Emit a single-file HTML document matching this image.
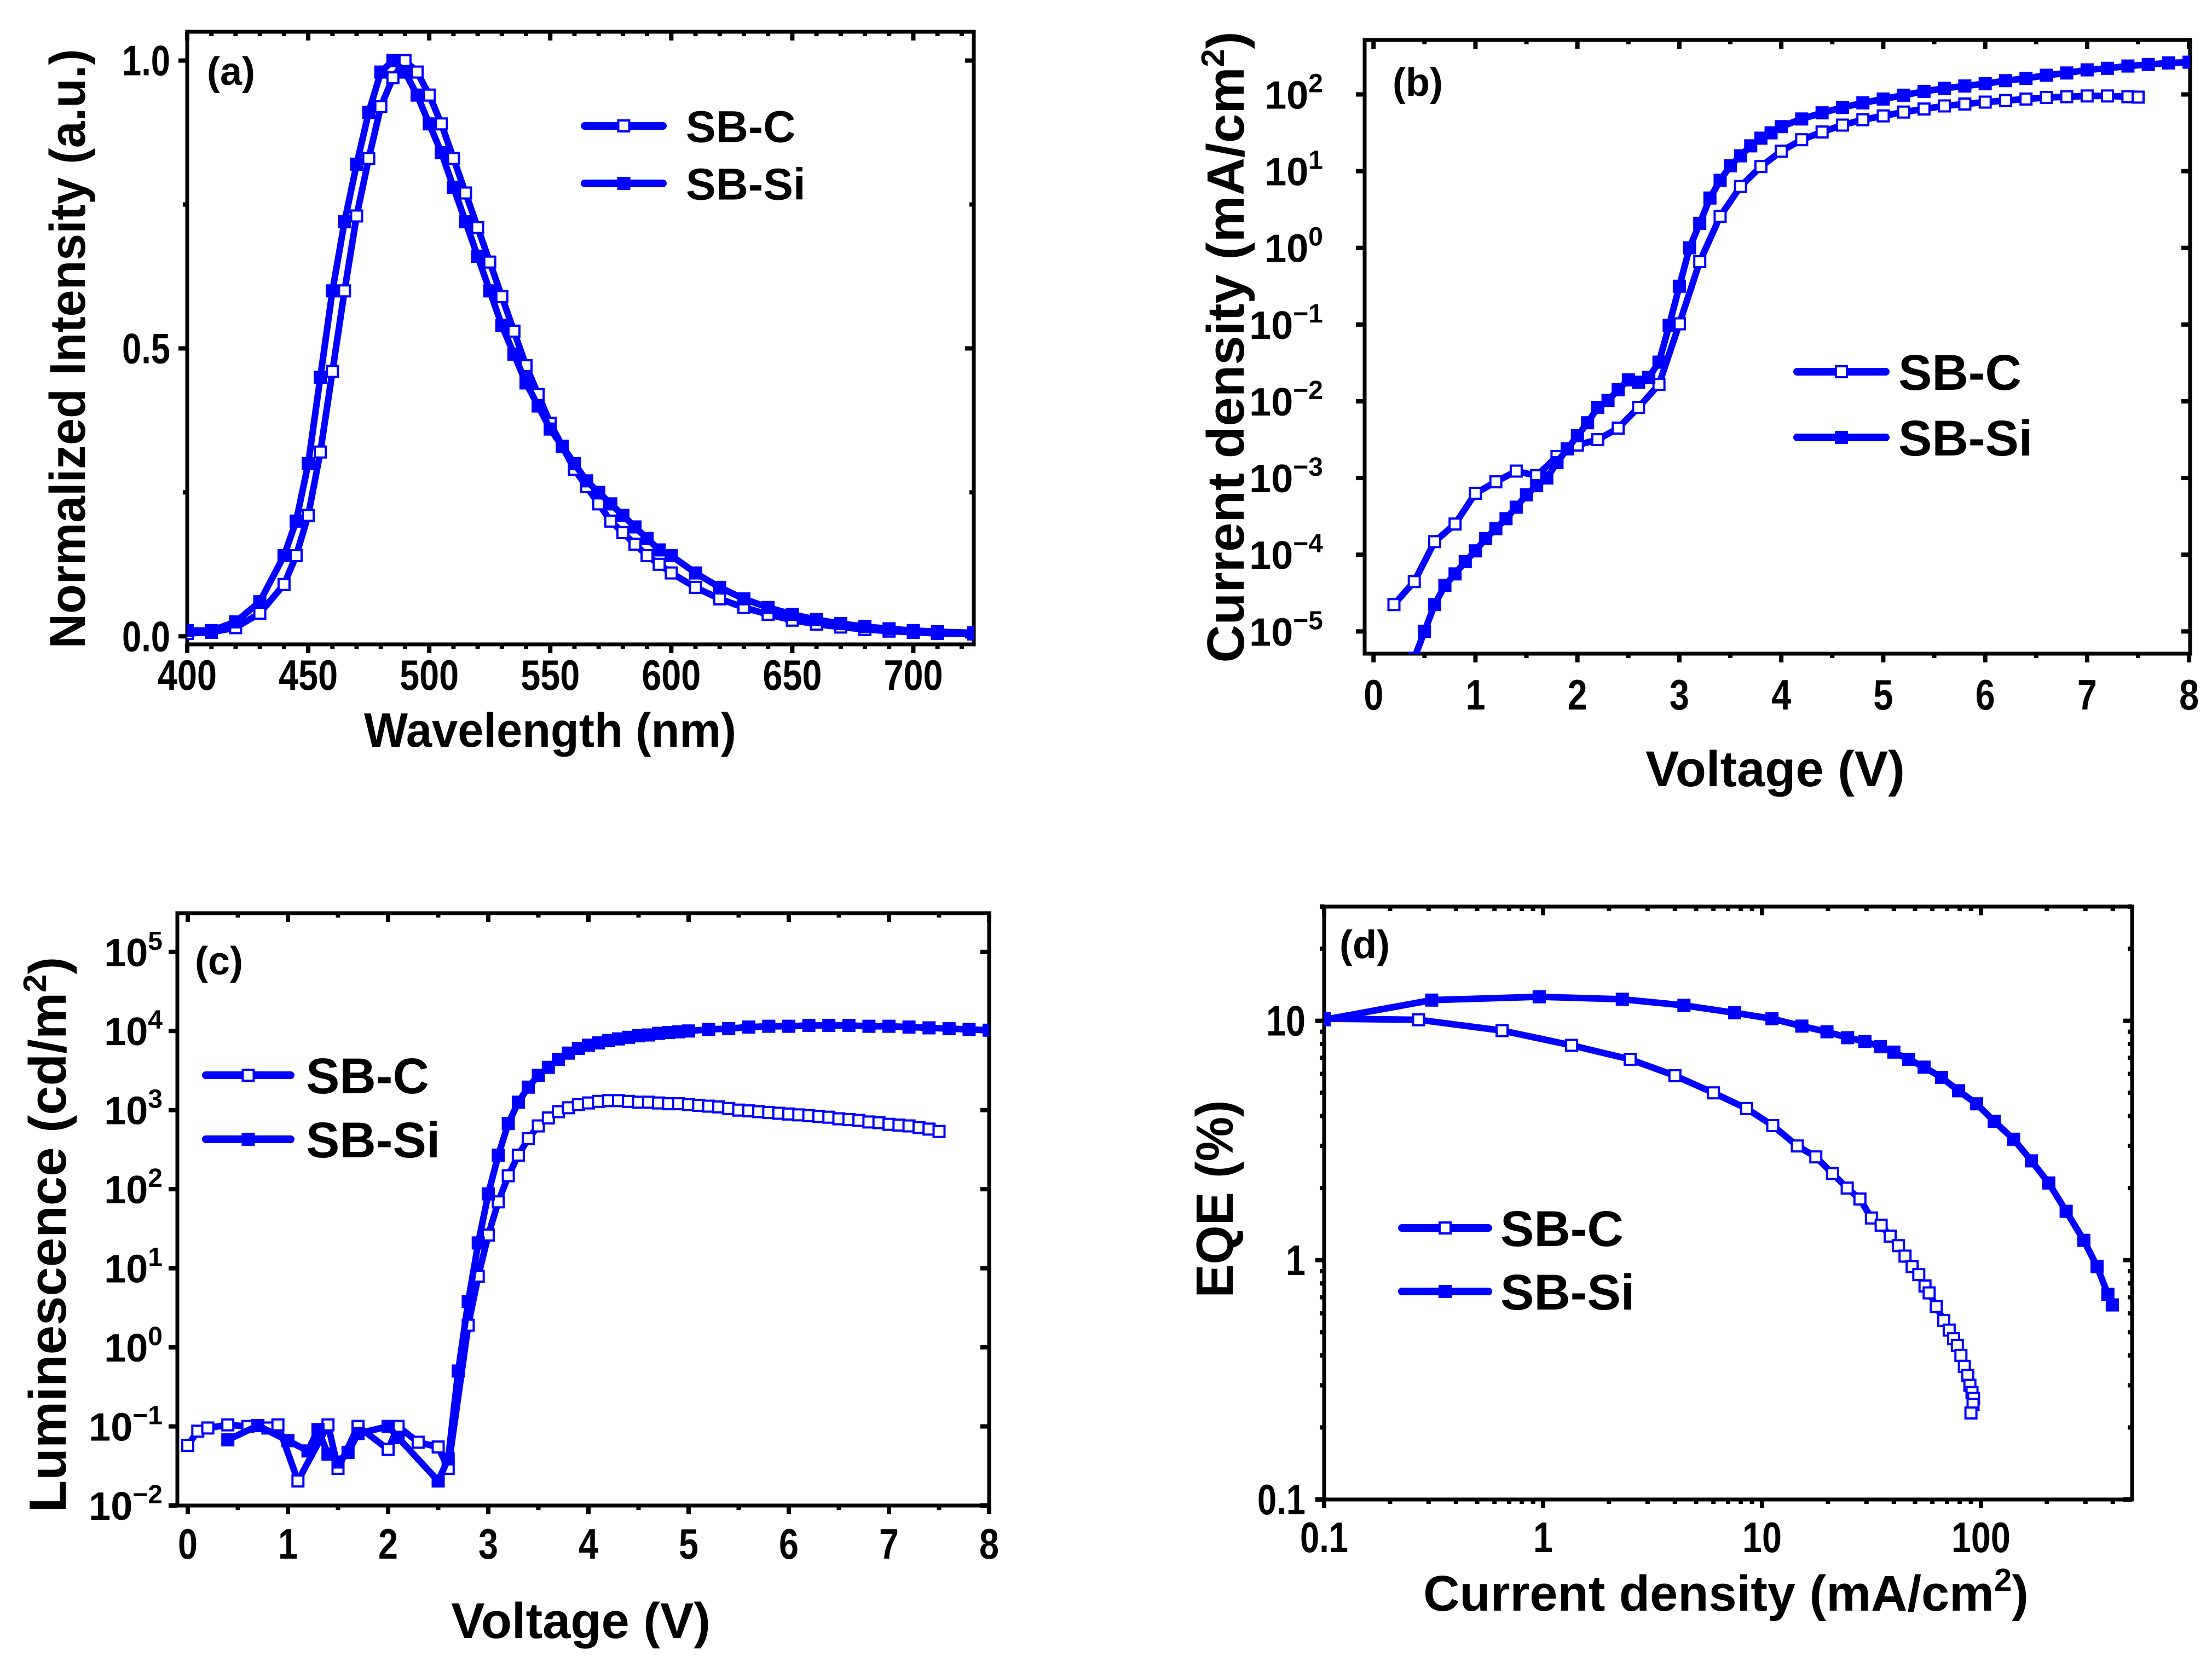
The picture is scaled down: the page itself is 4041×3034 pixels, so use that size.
<!DOCTYPE html>
<html><head><meta charset="utf-8">
<style>
html,body{margin:0;padding:0;background:#fff;}
svg{display:block;font-family:"Liberation Sans",Arial,sans-serif;font-weight:bold;}
</style></head>
<body>
<svg id="fig" width="4041" height="3034" viewBox="0 0 4041 3034" xmlns="http://www.w3.org/2000/svg">
<rect x="0" y="0" width="4041" height="3034" fill="#fff"/>
</svg>
<script>
// ---------- Panel (a) data: PL spectra ----------
const wlA = [400,410,420,430,440,445,450,455,460,465,470,475,480,485,490,495,500,505,510,515,520,525,530,535,540,545,550,555,560,565,570,575,580,585,590,595,600,610,620,630,640,650,660,670,680,690,700,710,725];
const plSBSi = [0.01,0.01,0.025,0.06,0.14,0.2,0.3,0.45,0.6,0.72,0.82,0.91,0.98,1.0,0.98,0.94,0.89,0.84,0.78,0.72,0.66,0.6,0.54,0.49,0.44,0.4,0.36,0.33,0.3,0.27,0.25,0.23,0.21,0.19,0.17,0.15,0.14,0.11,0.085,0.065,0.05,0.038,0.029,0.022,0.017,0.013,0.01,0.008,0.006];
const plSBC = [0.005,0.007,0.015,0.04,0.09,0.14,0.21,0.32,0.46,0.6,0.73,0.83,0.92,0.97,1.0,0.98,0.94,0.89,0.83,0.77,0.71,0.65,0.59,0.53,0.47,0.42,0.37,0.33,0.29,0.26,0.23,0.2,0.18,0.16,0.14,0.125,0.11,0.085,0.065,0.05,0.038,0.028,0.021,0.016,0.012,0.009,0.007,0.005,0.004];
const tickA_x = [400,450,500,550,600,650,700];
const tickA_y = [0,0.5,1.0];
const tickA_yLabels = ["0.0","0.5","1.0"];

// ---------- Panel (b) data: J-V (log10 of mA/cm2) ----------
const vB_C = [0.2,0.4,0.6,0.8,1.0,1.2,1.4,1.6,1.8,2.0,2.2,2.4,2.6,2.8,3.0,3.2,3.4,3.6,3.8,4.0,4.2,4.4,4.6,4.8,5.0,5.2,5.4,5.6,5.8,6.0,6.2,6.4,6.6,6.8,7.0,7.2,7.4,7.5];
const logJ_C = [-4.65,-4.35,-3.83,-3.6,-3.2,-3.05,-2.91,-2.97,-2.72,-2.57,-2.5,-2.35,-2.08,-1.78,-0.99,-0.18,0.41,0.8,1.06,1.26,1.41,1.51,1.6,1.67,1.72,1.77,1.81,1.85,1.875,1.9,1.92,1.94,1.96,1.97,1.98,1.98,1.97,1.965];
const vB_Si = [0.4,0.5,0.6,0.7,0.8,0.9,1.0,1.1,1.2,1.3,1.4,1.5,1.6,1.7,1.8,1.9,2.0,2.1,2.2,2.3,2.4,2.5,2.6,2.7,2.8,2.9,3.0,3.1,3.2,3.3,3.4,3.5,3.6,3.7,3.8,3.9,4.0,4.2,4.4,4.6,4.8,5.0,5.2,5.4,5.6,5.8,6.0,6.2,6.4,6.6,6.8,7.0,7.2,7.4,7.6,7.8,8.0];
const logJ_Si = [-5.35,-5.0,-4.65,-4.4,-4.25,-4.09,-3.95,-3.79,-3.66,-3.53,-3.38,-3.22,-3.1,-3.0,-2.8,-2.62,-2.45,-2.28,-2.08,-1.99,-1.85,-1.72,-1.75,-1.69,-1.49,-1.01,-0.5,0.0,0.32,0.65,0.88,1.07,1.2,1.33,1.43,1.5,1.58,1.68,1.76,1.83,1.89,1.94,1.99,2.04,2.08,2.11,2.14,2.18,2.21,2.25,2.28,2.32,2.34,2.37,2.39,2.41,2.42];
const tickB_x = [0,1,2,3,4,5,6,7,8];
const tickB_yExp = [2,1,0,-1,-2,-3,-4,-5];

// ---------- Panel (c) data: L-V (log10 of cd/m2) ----------
const vC_C = [0,0.1,0.2,0.4,0.6,0.8,0.9,1.1,1.4,1.5,1.7,2.0,2.1,2.3,2.5,2.6,2.8,2.9,3.0,3.1,3.2,3.3,3.4,3.5,3.6,3.7,3.8,3.9,4.0,4.1,4.2,4.3,4.4,4.5,4.6,4.7,4.8,4.9,5.0,5.1,5.2,5.3,5.4,5.5,5.6,5.7,5.8,5.9,6.0,6.1,6.2,6.3,6.4,6.5,6.6,6.7,6.8,6.9,7.0,7.1,7.2,7.3,7.4,7.5];
const logL_C = [-1.24,-1.06,-1.02,-0.98,-1.0,-1.02,-0.98,-1.69,-0.98,-1.53,-1.0,-1.29,-1.0,-1.2,-1.26,-1.53,0.28,0.9,1.42,1.84,2.17,2.43,2.64,2.8,2.9,2.98,3.03,3.07,3.09,3.11,3.12,3.12,3.11,3.1,3.1,3.09,3.08,3.08,3.07,3.06,3.05,3.04,3.02,3.0,2.99,2.98,2.97,2.96,2.95,2.94,2.93,2.92,2.91,2.89,2.88,2.87,2.85,2.84,2.82,2.81,2.8,2.78,2.76,2.73];
const vC_Si = [0.4,0.7,1.0,1.2,1.3,1.4,1.5,1.6,1.7,2.0,2.1,2.5,2.6,2.7,2.8,2.9,3.0,3.1,3.2,3.3,3.4,3.5,3.6,3.7,3.8,3.9,4.0,4.1,4.2,4.3,4.4,4.5,4.6,4.7,4.8,4.9,5.0,5.2,5.4,5.6,5.8,6.0,6.2,6.4,6.6,6.8,7.0,7.2,7.4,7.6,7.8,8.0];
const logL_Si = [-1.17,-0.99,-1.18,-1.31,-1.04,-1.35,-1.45,-1.33,-1.09,-1.0,-1.14,-1.69,-1.41,-0.3,0.58,1.32,1.94,2.43,2.83,3.1,3.29,3.44,3.54,3.64,3.72,3.78,3.82,3.85,3.88,3.9,3.92,3.94,3.95,3.97,3.98,3.99,4.0,4.02,4.03,4.05,4.06,4.06,4.07,4.07,4.07,4.06,4.06,4.05,4.04,4.03,4.02,4.01];
const tickC_x = [0,1,2,3,4,5,6,7,8];
const tickC_yExp = [5,4,3,2,1,0,-1,-2];

// ---------- Panel (d) data: EQE vs J ----------
const jD_C = [0.1,0.27,0.65,1.35,2.5,4.0,6.0,8.5,11.2,14.5,17.6,21,24.5,28,31.6,35,38.5,42,45,48.5,52,55.5,58,62.5,67.6,71.6,75,78,81,84,87,89,91,92.5,92,90];
const eqeD_C = [10.2,10.1,9.1,7.9,6.9,5.9,5.0,4.3,3.65,3.0,2.7,2.3,2.0,1.8,1.5,1.4,1.26,1.15,1.04,0.94,0.87,0.78,0.73,0.64,0.56,0.51,0.47,0.44,0.4,0.36,0.33,0.3,0.28,0.265,0.25,0.23];
const jD_Si = [0.1,0.31,0.96,2.3,4.4,7.5,11.1,15.2,19.8,24.6,29.5,34.7,40,46.8,55,66,79,95.5,115,141,170,204,245,295,339,380,398];
const eqeD_Si = [10.1,12.2,12.6,12.3,11.6,10.8,10.2,9.5,9.0,8.5,8.2,7.8,7.4,6.9,6.4,5.8,5.1,4.5,3.8,3.2,2.6,2.1,1.6,1.21,0.94,0.72,0.65];
const tickD_x = [0.1,1,10,100];
const tickD_xLabels = ["0.1","1","10","100"];
const tickD_y = [0.1,1,10];
const tickD_yLabels = ["0.1","1","10"];

const NS = 'http://www.w3.org/2000/svg';
const svg = document.getElementById('fig');
const BLUE = '#0000ff';
function el(tag, parent){ const e = document.createElementNS(NS, tag); parent.appendChild(e); return e; }
function set(e, o){ for (const k in o) e.setAttribute(k, o[k]); return e; }

function makeScale(pmin, pmax, dmin, dmax, log){
  const f = log ? Math.log10 : (v => v);
  const a = f(dmin), b = f(dmax);
  return v => pmin + (f(v) - a) / (b - a) * (pmax - pmin);
}

function makePanel(id, P){
  const g = el('g', svg);
  
  
  const sx = makeScale(P.x0, P.x1, P.xmin, P.xmax, P.xlog);
  const sy = makeScale(P.y1, P.y0, P.ymin, P.ymax, P.ylog);
  const cp = el('clipPath', g); cp.setAttribute('id', 'clip-' + id);
  set(el('rect', cp), {x:P.x0, y:P.y0, width:P.x1-P.x0, height:P.y1-P.y0});
  return {g, sx, sy, P, clip:'url(#clip-' + id + ')'};
}

function drawFrame(pn, xMaj, xMin, yMaj, yMin){
  const {g, sx, sy, P} = pn;
  const ax = el('g', g);
  
  
  const T = 16, t = 8;
  function tk(x1,y1,x2,y2){ set(el('line', ax), {x1,y1,x2,y2, stroke:'#000','stroke-width':8}); }
  xMaj.forEach(v => { const x = sx(v); tk(x,P.y1,x,P.y1+T); tk(x,P.y0,x,P.y0+T); });
  xMin.forEach(v => { const x = sx(v); tk(x,P.y1,x,P.y1+t); tk(x,P.y0,x,P.y0+t); });
  yMaj.forEach(v => { const y = sy(v); tk(P.x0-T,y,P.x0,y); tk(P.x1-T,y,P.x1,y); });
  yMin.forEach(v => { const y = sy(v); tk(P.x0-t,y,P.x0,y); tk(P.x1-t,y,P.x1,y); });
  set(el('rect', ax), {x:P.x0, y:P.y0, width:P.x1-P.x0, height:P.y1-P.y0, fill:'none', stroke:'#000','stroke-width':7});
}

function drawSeries(pn, xs, ys, open, name, msize){
  const {g, sx, sy} = pn;
  const sg = el('g', g);
  
  
  sg.setAttribute('clip-path', pn.clip);
  const pts = xs.map((x,i) => sx(x).toFixed(1) + ',' + sy(ys[i]).toFixed(1)).join(' ');
  set(el('polyline', sg), {points:pts, fill:'none', stroke:BLUE, 'stroke-width':12, 'stroke-linejoin':'round'});
  const s = msize || 20;
  xs.forEach((x,i) => {
    const r = el('rect', sg);
    set(r, {x:(sx(x)-s/2).toFixed(1), y:(sy(ys[i])-s/2).toFixed(1), width:s, height:s,
      fill: open ? '#fff' : BLUE, stroke:BLUE, 'stroke-width':4});
    
    
  });
}

function text(parent, str, x, y, size, anchor, name){
  const t = el('text', parent);
  set(t, {x, y, 'font-size':size, 'text-anchor':anchor||'middle', fill:'#000'});
  t.textContent = str;
  
  
  return t;
}
function tickText(parent, str, x, y, anchor, name){
  const t = text(parent, str, x, y, 78, anchor, name);
  const w = str.split('').reduce((s,c) => s + (c === '.' ? 16 : 36), 0);
  t.setAttribute('textLength', w);
  t.setAttribute('lengthAdjust', 'spacingAndGlyphs');
  return t;
}
function powLabel(parent, exp, xRight, y, name){
  const t = el('text', parent);
  set(t, {x:xRight, y, 'font-size':72, 'text-anchor':'end', fill:'#000'});
  const a = el('tspan', t); a.textContent = '10';
  const b = el('tspan', t); set(b, {dy:-30, 'font-size':48});
  b.textContent = exp < 0 ? '\u2212' + (-exp) : String(exp);
  
  
}
function rotTitle(parent, cx, cy, size, name, parts, len){
  const t = el('text', parent);
  set(t, {x:0, y:0, 'font-size':size, 'text-anchor':'middle', fill:'#000', transform:'translate(' + cx + ',' + cy + ') rotate(-90)'});
  if (len) { t.setAttribute('textLength', len); t.setAttribute('lengthAdjust', 'spacingAndGlyphs'); }
  parts.forEach(p => { const s = el('tspan', t); if (p.sup) set(s, {dy:-36, 'font-size':size*0.62}); if (p.down) set(s, {dy:36}); s.textContent = p.t; });
  
  
  return t;
}
function legend(pn, x1, x2, yC, yS, tx, size){
  const lg = el('g', pn.g);
  
  
  [[yC, true, 'SB-C'], [yS, false, 'SB-Si']].forEach(([y, open, lab]) => {
    const e = el('g', lg);
    
    
    set(el('line', e), {x1, y1:y, x2, y2:y, stroke:BLUE, 'stroke-width':14, 'stroke-linecap':'round'});
    const m = (x1+x2)/2;
    set(el('rect', e), {x:m-10, y:y-10, width:20, height:20, fill: open ? '#fff' : BLUE, stroke:BLUE, 'stroke-width':4});
    text(e, lab, tx, y + size*0.36, size, 'start', 'legend-label');
  });
}

// ================= Panel (a) =================
(function(){
  const pn = makePanel('a', {x0:342, x1:1779, y0:58, y1:1177, xmin:400, xmax:725, ymin:-0.014, ymax:1.05});
  const minX = []; for (let v = 410; v <= 720; v += 10) if (v % 50) minX.push(v);
  drawFrame(pn, tickA_x, minX, tickA_y, [0.25, 0.75]);
  drawSeries(pn, wlA, plSBC, true, 'series-sb-c');
  drawSeries(pn, wlA, plSBSi, false, 'series-sb-si');
  tickA_x.forEach(v => tickText(pn.g, String(v), pn.sx(v), 1260, 'middle', 'x-tick-label'));
  tickA_y.forEach((v,i) => tickText(pn.g, tickA_yLabels[i], 311, pn.sy(v) + 27, 'end', 'y-tick-label'));
  const xt = text(pn.g, 'Wavelength (nm)', 1005, 1364, 88, 'middle', 'x-axis-title');
  xt.setAttribute('textLength', 680); xt.setAttribute('lengthAdjust', 'spacingAndGlyphs');
  rotTitle(pn.g, 155, 637, 92, 'y-axis-title', [{t:'Normalized Intensity (a.u.)'}], 1095);
  text(pn.g, '(a)', 378, 155, 72, 'start', 'panel-label');
  legend(pn, 1068, 1211, 230, 335, 1253, 82);
})();

// ================= Panel (b) =================
(function(){
  const pn = makePanel('b', {x0:2493, x1:4001, y0:73, y1:1194, xmin:-0.087, xmax:8.01, ymin:-5.29, ymax:2.71});
  drawFrame(pn, tickB_x, [0.5,1.5,2.5,3.5,4.5,5.5,6.5,7.5], tickB_yExp, []);
  drawSeries(pn, vB_C, logJ_C, true, 'series-sb-c');
  drawSeries(pn, vB_Si, logJ_Si, false, 'series-sb-si');
  tickB_x.forEach(v => tickText(pn.g, String(v), pn.sx(v), 1296, 'middle', 'x-tick-label'));
  tickB_yExp.forEach(e => powLabel(pn.g, e, 2417, pn.sy(e) + 26, 'y-tick-label'));
  text(pn.g, 'Voltage (V)', 3243, 1436, 92, 'middle', 'x-axis-title');
  rotTitle(pn.g, 2272, 634, 96, 'y-axis-title', [{t:'Current density (mA/cm'},{t:'2', sup:true},{t:')', down:true}]);
  text(pn.g, '(b)', 2544, 175, 72, 'start', 'panel-label');
  legend(pn, 3283, 3445, 679, 799, 3468, 92);
})();

// ================= Panel (c) =================
(function(){
  const pn = makePanel('c', {x0:324, x1:1807, y0:1668, y1:2750, xmin:-0.104, xmax:8.0, ymin:-2, ymax:5.49});
  drawFrame(pn, tickC_x, [0.5,1.5,2.5,3.5,4.5,5.5,6.5,7.5], tickC_yExp, []);
  drawSeries(pn, vC_C, logL_C, true, 'series-sb-c');
  drawSeries(pn, vC_Si, logL_Si, false, 'series-sb-si');
  tickC_x.forEach(v => tickText(pn.g, String(v), pn.sx(v), 2847, 'middle', 'x-tick-label'));
  tickC_yExp.forEach(e => powLabel(pn.g, e, 297, pn.sy(e) + 26, 'y-tick-label'));
  text(pn.g, 'Voltage (V)', 1061, 2992, 92, 'middle', 'x-axis-title');
  rotTitle(pn.g, 120, 2255, 96, 'y-axis-title', [{t:'Luminescence (cd/m'},{t:'2', sup:true},{t:')', down:true}]);
  text(pn.g, '(c)', 356, 1780, 72, 'start', 'panel-label');
  legend(pn, 376, 531, 1964, 2081, 559, 92);
})();

// ================= Panel (d) =================
(function(){
  const pn = makePanel('d', {x0:2419, x1:3895, y0:1656, y1:2739, xmin:0.1, xmax:490, xlog:true, ymin:0.1, ymax:30, ylog:true});
  const minX = [], minY = [];
  [0.1,1,10,100].forEach(d => { for (let k = 2; k <= 9; k++) if (d*k <= 490) minX.push(d*k); });
  [0.1,1,10].forEach(d => { for (let k = 2; k <= 9; k++) if (d*k <= 30) minY.push(d*k); });
  drawFrame(pn, tickD_x, minX, tickD_y, minY);
  drawSeries(pn, jD_C, eqeD_C, true, 'series-sb-c');
  drawSeries(pn, jD_Si, eqeD_Si, false, 'series-sb-si');
  tickD_x.forEach((v,i) => tickText(pn.g, tickD_xLabels[i], pn.sx(v), 2835, 'middle', 'x-tick-label'));
  tickD_y.forEach((v,i) => tickText(pn.g, tickD_yLabels[i], 2385, pn.sy(v) + 27, 'end', 'y-tick-label'));
  const xt = el('text', pn.g);
  set(xt, {x:3153, y:2942, 'font-size':92, 'text-anchor':'middle', fill:'#000'});
  const a = el('tspan', xt); a.textContent = 'Current density (mA/cm';
  const b = el('tspan', xt); set(b, {dy:-36, 'font-size':58}); b.textContent = '2';
  const c = el('tspan', xt); set(c, {dy:36}); c.textContent = ')';
  
  
  rotTitle(pn.g, 2252, 2190, 96, 'y-axis-title', [{t:'EQE (%)'}], 361);
  text(pn.g, '(d)', 2447, 1750, 72, 'start', 'panel-label');
  legend(pn, 2561, 2719, 2243, 2359, 2741, 92);
})();
</script>
</body></html>
